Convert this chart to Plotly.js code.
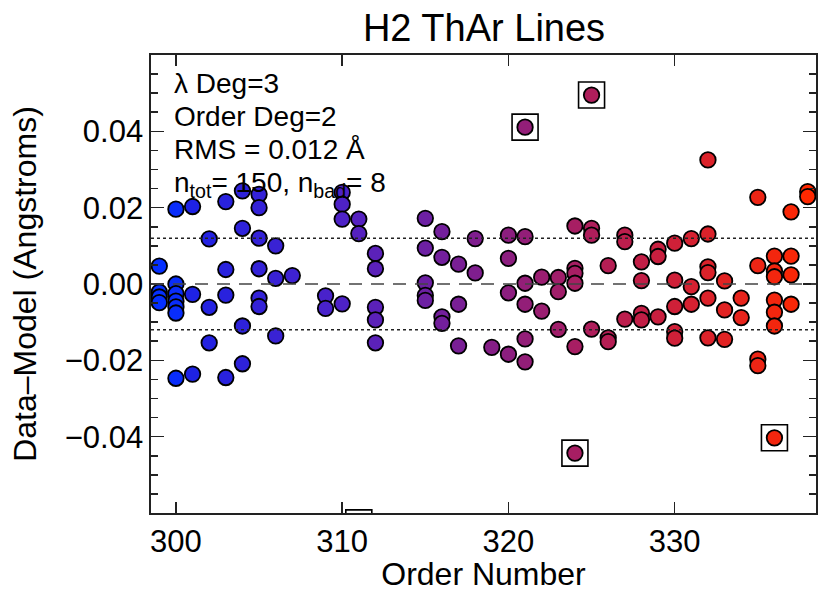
<!DOCTYPE html>
<html>
<head>
<meta charset="utf-8">
<script src="https://cdn.plot.ly/plotly-3.0.1.min.js"></script>
<style>
  html, body { margin: 0; padding: 0; background: #fff; }
  #chart { width: 819px; height: 592px; }
</style>
</head>
<body>
<div id="chart"></div>
<script>
// Echelle order of each fitted ThAr line and its residual (Data - Model, Angstroms)
const order = [
  299, 299, 299, 299,
  300, 300, 300, 300, 300, 300, 300,
  301, 301, 301,
  302, 302, 302,
  303, 303, 303, 303,
  304, 304, 304, 304,
  305, 305, 305, 305, 305, 305,
  306, 306, 306,
  307,
  309, 309,
  310, 310, 310, 310,
  311, 311,
  312, 312, 312, 312, 312,
  315, 315, 315, 315, 315,
  316, 316, 316, 316,
  317, 317, 317,
  318, 318,
  319,
  320, 320, 320, 320,
  321, 321, 321, 321, 321,
  322, 322,
  323, 323, 323,
  324, 324, 324, 324, 324,
  325, 325, 325,
  326, 326, 326,
  327, 327, 327,
  328, 328, 328, 328,
  329, 329, 329,
  330, 330, 330, 330, 330,
  331, 331, 331,
  332, 332, 332, 332, 332, 332,
  333, 333, 333,
  334, 334,
  335, 335, 335, 335,
  336, 336, 336, 336, 336, 336,
  337, 337, 337, 337,
  338, 338
];
const resid = [
  0.0047, -0.0021, -0.0034, -0.0049,
  0.0196, 0.0000, -0.0025, -0.0045, -0.0060, -0.0076, -0.0247,
  0.0203, -0.0027, -0.0236,
  0.0118, -0.0061, -0.0154,
  0.0216, 0.0038, -0.0029, -0.0245,
  0.0244, 0.0146, -0.0110, -0.0209,
  0.0235, 0.0200, 0.0120, 0.0040, -0.0037, -0.0059,
  0.0100, 0.0015, -0.0136,
  0.0022,
  -0.0031, -0.0064,
  0.0240, 0.0209, 0.0170, -0.0052,
  0.0170, 0.0132,
  0.0080, 0.0040, -0.0061, -0.0094, -0.0154,
  0.0172, 0.0094, 0.0003, -0.0030, -0.0043,
  0.0137, 0.0070, -0.0086, -0.0103,
  0.0052, -0.0053, -0.0162,
  0.0119, 0.0029,
  -0.0166,
  0.0128, 0.0067, -0.0023, -0.0184,
  0.0124, 0.0002, -0.0053, -0.0144, -0.0204,
  0.0018, -0.0071,
  0.0017, -0.0020, -0.0119,
  0.0152, 0.0041, 0.0028, 0.0002, -0.0164,
  0.0146, 0.0128, -0.0118,
  0.0048, -0.0141, -0.0151,
  0.0128, 0.0111, -0.0092,
  0.0058, 0.0009, -0.0077, -0.0094,
  0.0091, 0.0072, -0.0086,
  0.0107, 0.0010, -0.0059, -0.0125, -0.0142,
  0.0119, -0.0007, -0.0053,
  0.0325, 0.0131, 0.0045, 0.0030, -0.0037, -0.0141,
  0.0008, -0.0068, -0.0145,
  -0.0037, -0.0088,
  0.0227, 0.0048, -0.0197, -0.0214,
  0.0073, 0.0034, 0.0019, -0.0042, -0.0074, -0.0110,
  0.0189, 0.0073, 0.0024, -0.0053,
  0.0242, 0.0229
];

// Lines rejected from the fit (boxed)
const badOrder = [321, 325, 324, 336, 311];
const badResid = [0.0411, 0.0495, -0.0443, -0.0403, -0.0626];

// Fit summary
const lamDeg = 3;
const orderDeg = 2;
const rms = 0.012;
const nTot = 150;
const nBad = 8;

// Axis ticks
const xTicks = [300, 310, 320, 330];
const yTicks = [-0.04, -0.02, 0.00, 0.02, 0.04];
const yTickText = ['\u22120.04', '\u22120.02', '0.00', '0.02', '0.04'];

const FONT = 'Liberation Sans, Arial, Helvetica, sans-serif';

// Blue -> purple -> red ramp across the order range
const rampScale = [
  [0.00, 'rgb(5,48,255)'],
  [0.03, 'rgb(10,45,250)'],
  [0.05, 'rgb(30,34,228)'],
  [0.28, 'rgb(78,34,200)'],
  [0.50, 'rgb(130,30,138)'],
  [0.75, 'rgb(196,30,68)'],
  [1.00, 'rgb(255,40,0)']
];

const allX = order.concat(badOrder);
const allY = resid.concat(badResid);

const pts = {
  type: 'scatter',
  mode: 'markers',
  x: allX,
  y: allY,
  cliponaxis: true,
  marker: {
    size: 15.5,
    color: allX,
    colorscale: rampScale,
    cmin: 299,
    cmax: 338,
    showscale: false,
    line: { color: '#000', width: 1.8 }
  },
  hoverinfo: 'x+y'
};

const shapes = [
  // zero line
  { type: 'line', xref: 'paper', x0: 0, x1: 1, yref: 'y', y0: 0, y1: 0,
    line: { color: '#444', width: 1.6, dash: '13px,9px' } },
  // +/- RMS
  { type: 'line', xref: 'paper', x0: 0, x1: 1, yref: 'y', y0: rms, y1: rms,
    line: { color: '#222', width: 1.6, dash: 'dot' } },
  { type: 'line', xref: 'paper', x0: 0, x1: 1, yref: 'y', y0: -rms, y1: -rms,
    line: { color: '#222', width: 1.6, dash: 'dot' } }
];
badOrder.forEach((o, i) => {
  shapes.push({
    type: 'rect', xref: 'x', yref: 'y',
    xsizemode: 'pixel', ysizemode: 'pixel',
    xanchor: o, yanchor: badResid[i],
    x0: -13, x1: 13, y0: -13, y1: 13,
    line: { color: '#000', width: 1.6 }
  });
});

const infoLines = [
  '\u03bb Deg=' + lamDeg,
  'Order Deg=' + orderDeg,
  'RMS = ' + rms.toFixed(3) + ' \u00c5',
  'n<sub>tot</sub>= ' + nTot + ', n<sub>bad</sub>= ' + nBad
];
const infoY = [0.938, 0.866, 0.794, 0.718];
const annotations = infoLines.map((t, i) => ({
  text: t, xref: 'paper', yref: 'paper', x: 0.031, y: infoY[i],
  xanchor: 'left', yanchor: 'middle', showarrow: false,
  font: { family: FONT, size: 28, color: '#000' }
}));

const axisCommon = {
  showline: true, linecolor: '#222', linewidth: 1.6,
  mirror: 'allticks', ticks: 'inside', tickcolor: '#222', tickwidth: 1.6,
  showgrid: false, zeroline: false,
  tickfont: { family: FONT, size: 31, color: '#000' }
};

const layout = {
  width: 819, height: 592,
  margin: { l: 151, r: 3, t: 55, b: 79, pad: 0 },
  paper_bgcolor: '#fff', plot_bgcolor: '#fff',
  showlegend: false,
  title: {
    text: 'H2 ThAr Lines',
    font: { family: FONT, size: 38, color: '#000' },
    x: 0.591, xanchor: 'center', y: 0.953, yanchor: 'middle'
  },
  xaxis: Object.assign({}, axisCommon, {
    range: [298.5, 338.5],
    tickmode: 'array', tickvals: xTicks, ticklen: 11,
    title: { text: 'Order Number', font: { family: FONT, size: 32, color: '#000' }, standoff: 0 }
  }),
  yaxis: Object.assign({}, axisCommon, {
    range: [-0.06, 0.06],
    tickmode: 'array', tickvals: yTicks, ticktext: yTickText, ticklen: 13,
    minor: { tickmode: 'linear', tick0: 0, dtick: 0.005, ticks: 'inside', ticklen: 7, tickcolor: '#222', tickwidth: 1.6 },
    title: { text: 'Data\u2013Model (Angstroms)', font: { family: FONT, size: 32, color: '#000' }, standoff: 18 }
  }),
  shapes: shapes,
  annotations: annotations
};

Plotly.newPlot('chart', [pts], layout, { staticPlot: true, displayModeBar: false });
</script>
</body>
</html>
